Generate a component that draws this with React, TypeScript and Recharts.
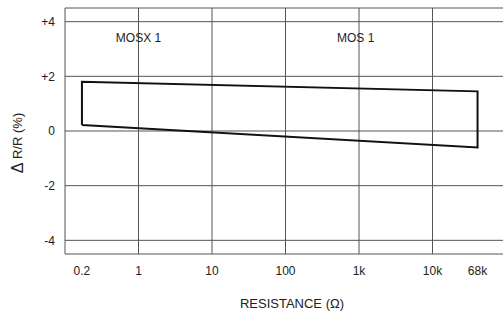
import React from 'react';
import { LineChart, Line, XAxis, YAxis, ReferenceLine, ReferenceDot, Label } from 'recharts';

// tolerance band outline (resistance, %)
const bandX = [0.17, 0.17, 41000, 41000, 0.17];
const bandY = [0.22, 1.8, 1.45, -0.6, 0.22];

const xTicks = [0.17, 1, 10, 100, 1000, 10000, 41000];
const xTickLabels = ['0.2', '1', '10', '100', '1k', '10k', '68k'];
const yTicks = [-4, -2, 0, 2, 4];
const yTickLabels = ['-4', '-2', '0', '+2', '+4'];
const gridX = [1, 10, 100, 1000, 10000];
const gridY = [-4, -2, 0, 2, 4];

const notes = [
  { x: 1, y: 3.4, text: 'MOSX 1' },
  { x: 900, y: 3.4, text: 'MOS 1' },
];

const data = bandX.map((x, i) => ({ x, y: bandY[i] }));

const font = '"Liberation Sans", Arial, sans-serif';
const gridColor = '#555';
const textColor = '#222';

// axis box of the y axis: title sits near its left edge
const YTitle = (props: any) => {
  const vb = props.viewBox || {};
  const cx = vb.x + 17;
  const cy = vb.y + vb.height / 2 + 12;
  return (
    <text
      x={cx}
      y={cy}
      transform={`rotate(-90, ${cx}, ${cy})`}
      textAnchor="middle"
      dominantBaseline="central"
      fill={textColor}
      fontFamily={font}
      fontSize={13}
    >
      <tspan fontSize={16}>Δ</tspan> R/R (%)
    </text>
  );
};

const XTitle = (props: any) => {
  const vb = props.viewBox || {};
  return (
    <text
      x={vb.x + vb.width / 2 + 8}
      y={vb.y + 49}
      textAnchor="middle"
      dominantBaseline="central"
      fill={textColor}
      fontFamily={font}
      fontSize={13}
    >
      RESISTANCE (Ω)
    </text>
  );
};

const App: React.FC = () => {
  return (
    <div style={{ position: 'absolute', left: 0, top: 0, background: '#fff' }}>
      <LineChart
        width={503}
        height={313}
        data={data}
        margin={{ top: 8, right: 0, left: 0, bottom: 29 }}
        style={{ fontFamily: font }}
      >
        {gridX.map((v) => (
          <ReferenceLine key={'gx' + v} x={v} stroke={gridColor} strokeWidth={1} />
        ))}
        {gridY.map((v) => (
          <ReferenceLine key={'gy' + v} y={v} stroke={gridColor} strokeWidth={1} />
        ))}
        <ReferenceLine y={4.5} stroke={gridColor} strokeWidth={1} />
        <XAxis
          dataKey="x"
          type="number"
          scale="log"
          domain={[0.1, 91000]}
          ticks={xTicks}
          tickFormatter={(v: number) => xTickLabels[xTicks.indexOf(v)] ?? ''}
          allowDataOverflow
          height={30}
          tickLine={false}
          tickSize={0}
          tickMargin={12}
          axisLine={{ stroke: gridColor }}
          tick={{ fill: textColor, fontSize: 12, fontFamily: font }}
        >
          <Label content={<XTitle />} />
        </XAxis>
        <YAxis
          type="number"
          domain={[-4.5, 4.5]}
          ticks={yTicks}
          tickFormatter={(v: number) => yTickLabels[yTicks.indexOf(v)] ?? ''}
          allowDataOverflow
          width={65}
          tickLine={false}
          tickSize={0}
          tickMargin={10}
          axisLine={{ stroke: gridColor }}
          tick={{ fill: textColor, fontSize: 12, fontFamily: font }}
        >
          <Label content={<YTitle />} />
        </YAxis>
        {notes.map((n) => (
          <ReferenceDot
            key={n.text}
            x={n.x}
            y={n.y}
            r={0}
            stroke="none"
            fill="none"
            label={{ value: n.text, position: 'center', fill: textColor, fontSize: 12, fontFamily: font }}
          />
        ))}
        <Line
          type="linear"
          dataKey="y"
          stroke="#111"
          strokeWidth={2}
          dot={false}
          isAnimationActive={false}
        />
      </LineChart>
    </div>
  );
};

export default App;
